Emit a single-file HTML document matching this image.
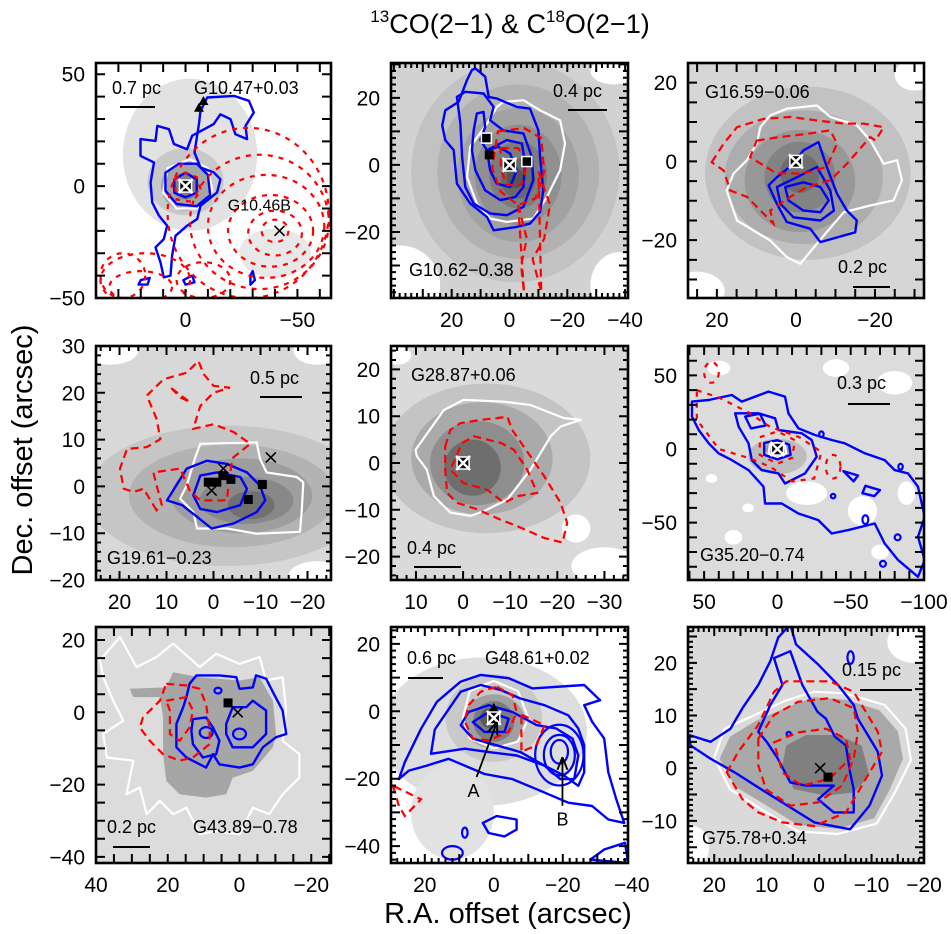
<!DOCTYPE html>
<html><head><meta charset="utf-8">
<style>
html,body{margin:0;padding:0;background:#fff;}
svg{display:block;font-family:"Liberation Sans",Arial,sans-serif;}
</style></head>
<body>
<svg id="fig" width="951" height="934" viewBox="0 0 951 934" xmlns="http://www.w3.org/2000/svg">
<text x="510" y="33" text-anchor="middle" font-size="27"><tspan font-size="17" dy="-11">13</tspan><tspan dy="11">CO(2−1) &amp; C</tspan><tspan font-size="17" dy="-11">18</tspan><tspan dy="11">O(2−1)</tspan></text>
<text transform="translate(32,450) rotate(-90)" text-anchor="middle" font-size="29">Dec. offset (arcsec)</text>
<text x="508" y="923" text-anchor="middle" font-size="29">R.A. offset (arcsec)</text>
</svg>
<script>
// ---------- panel frames (pixel boxes) ----------
const colX=[[96,331],[391,628],[688,924]];
const rowY=[[63,298],[346,580],[627,863]];

// ---------- axis ranges (data, arcsec) ----------
const p1Range=[40,-65,55,-50], p2Range=[41,-41,30.4,-39.7], p3Range=[27.3,-32.4,25,-34.7];
const p4Range=[25,-25,30,-20], p5Range=[15.3,-35,25,-25], p6Range=[61,-100,70,-89];
const p7Range=[40,-25.5,23.6,-41.7], p8Range=[29.8,-38.9,25,-45], p9Range=[25,-20,26.8,-18];

// ---------- tick labels ----------
const p1XTicks=[0,-50], p1YTicks=[50,0,-50];
const p2XTicks=[20,0,-20,-40], p2YTicks=[20,0,-20];
const p3XTicks=[20,0,-20], p3YTicks=[20,0,-20];
const p4XTicks=[20,10,0,-10,-20], p4YTicks=[30,20,10,0,-10,-20];
const p5XTicks=[10,0,-10,-20,-30], p5YTicks=[20,10,0,-10,-20];
const p6XTicks=[50,0,-50,-100], p6YTicks=[50,0,-50];
const p7XTicks=[40,20,0,-20], p7YTicks=[20,0,-20,-40];
const p8XTicks=[20,0,-20,-40], p8YTicks=[20,0,-20,-40];
const p9XTicks=[20,10,0,-10,-20], p9YTicks=[20,10,0,-10];

// ---------- grey levels: ellipses [cx,cy,rx,ry] with shades ----------
const p1GreyEll=[[-2,14,30,34],[-40,-30,16,11],[0,2,17,15],[0,0,11,11],[0,0,6,6],[0,0,3,3]];
const p1GreyShade=['#e2e2e2','#e8e8e8','#c8c8c8','#a6a6a6','#808080','#5e5e5e'];
const p2GreyEll=[[-2,-2,36,33],[-3,-2,28,26],[-3,-3,21,20],[-3,-3,15,15],[-3,-3,10,10],[-3,-4,6,6],[-2,-4,3,3]];
const p2GreyShade=['#c2c2c2','#b2b2b2','#a2a2a2','#909090','#7c7c7c','#686868','#555555'];
const p3GreyEll=[[-3,-3,26,22],[-2,-4,20,17],[-1,-5,14,13],[-1,-4,9,9],[-1,-3,5,5]];
const p3GreyShade=['#c2c2c2','#adadad','#989898','#838383','#6e6e6e'];
const p4GreyEll=[[-3,-2,30,15],[-4,-2,22,11],[-6,-2,15,8],[-7,-3,10,5],[-8,-4,5,3]];
const p4GreyShade=['#c6c6c6','#b3b3b3','#9e9e9e','#888888','#707070'];
const p5GreyEll=[[-5,1,22,16],[-4,1,15,12],[-3,0,10,9],[-2,-1,6,6]];
const p5GreyShade=['#c4c4c4','#aaaaaa','#8e8e8e','#6e6e6e'];
const p6GreyEll=[[0,-5,20,12],[0,0,8,6],[0,0,4,4]];
const p6GreyShade=['#bdbdbd','#999999','#777777'];
const p7GreyEll=[];
const p7GreyShade=[];
const p8GreyEll=[[3,-6,30,22],[12,-30,12,14],[0,-2,14,13],[0,-3,9,8],[0,-3,6,6],[1,-2,3,3]];
const p8GreyShade=['#dedede','#e2e2e2','#c9c9c9','#a0a0a0','#7c7c7c','#5a5a5a'];
const p9GreyEll=[];
const p9GreyShade=[];

// white patches (background holes) [cx,cy,rx,ry]
const p2Holes=[[38,-36,14,12],[-38,-36,10,10],[-36,28,8,4]];
const p3Holes=[[-30,22,5,4],[25,-33,7,5]];
const p4Holes=[[22,29,6,3],[-22,29,5,3],[-22,-19,6,3]];
const p5Holes=[[14,23,3,2],[-30,-22,7,4],[-24,-14,3,3]];
const p6Holes=[[40,55,8,5],[-20,-30,14,8],[-58,-42,10,10],[-80,45,12,8],[30,-60,6,5],[-40,55,9,6],[45,-20,4,3],[-70,-70,6,5],[20,-40,4,3],[-88,-30,6,8]];
const p9Holes=[[-18,24,5,4],[24,-15,3,4]];

// grey polygons [x,y]
const p7DarkPoly=[[30.6,6.5],[20.4,6.9],[18.5,11.1],[11.1,9.7],[0,8.8],[-5.6,9.7],[-9.3,3.2],[-10.2,-6],[-9.3,-9.7],[-3.7,-16.2],[1.9,-18.1],[3.7,-22.7],[9.3,-23.6],[16.7,-22.7],[20.4,-19],[21.3,-11.6],[21.3,-1.4],[22.2,4.2],[29.6,4.2]];
const p9MidPoly=[[19,1.8],[17,6],[12,9],[6.3,11.5],[1,13.5],[-5.1,13],[-11.5,11],[-15,7],[-16,1.8],[-13.5,-4],[-10.5,-9.5],[-3.6,-11.5],[4,-10.8],[11,-6.5],[16,-3.5]];
const p9DarkPoly=[[6.3,4.3],[2.5,6.3],[-3.6,6.3],[-8.1,4.3],[-9.6,-1.4],[-6.6,-4.6],[-1.3,-5.2],[4.8,-4],[7,0.5]];

// ---------- white contours ----------
const p1White=[[[8,8],[-2,12],[-10,8],[-12,-2],[-6,-10],[4,-10],[10,-3]]];
const p2White=[[[2.1,18.8],[-4.8,19.3],[-10.6,16.3],[-17.5,13.3],[-19.2,6.4],[-17.5,-1.6],[-12.9,-9.6],[-8.3,-16],[0.9,-17],[6.7,-16],[11.3,-11.5],[14.7,-3.6],[13.6,5.4],[7.8,12.3],[4.4,17.3]]];
const p3White=[[[6.5,11.7],[2.3,13.4],[-5.3,14.2],[-8.7,11.3],[-15.4,9.2],[-18.8,5.3],[-22.2,-0.6],[-25.6,0.3],[-26.8,-4.8],[-24.7,-9.9],[-18.8,-11.2],[-12.1,-12.9],[-5.3,-20.9],[-1.1,-26],[2.3,-24.3],[6.5,-20.1],[14.9,-15],[17.5,-7.4],[15.8,-3.1],[12.4,0.3],[9.9,4.5],[9,8.7]]];
const p4White=[[[3.9,6.2],[2.8,9.1],[-9.2,9.4],[-9.9,5.9],[-11.3,3],[-17.7,2],[-19.1,0.9],[-18.8,-4.8],[-18.4,-9.7],[-9.2,-10.1],[-2.8,-9],[3.5,-9],[4.3,-5.5],[7.1,-2.6],[5.7,0.2]]];
const p5White=[[[10.1,2.8],[4.1,11.3],[-0.1,13.5],[-8.7,13.1],[-14.3,12.4],[-21.4,9.6],[-25,9.2],[-22.8,8.5],[-20.7,7.8],[-18.6,5.7],[-14.3,-1.4],[-9.4,-7.8],[-4.4,-10.3],[-1.6,-11.3],[2.7,-10.6],[6.2,-7.1],[7.7,-1.4],[9.8,1.4]]];
const p6White=[[[5,4],[-5,4],[-6,-3],[0,-6],[6,-3]]];
const p7White=[[[38.9,14.4],[33.3,20.8],[28.7,12.5],[23.1,15.3],[18.5,19],[11.1,12.5],[6.5,16.2],[0,13.4],[-5.6,15.3],[-7.4,8.8],[-12,9.7],[-13,0.5],[-12,-7.9],[-16.7,-11.6],[-16.7,-18.1],[-12,-22.7],[-8.3,-28.2],[-3.7,-26.4],[0,-33.8],[6.5,-32.9],[11.1,-33.8],[14.8,-26.4],[18.5,-28.2],[22.2,-24.5],[25.9,-28.2],[27.8,-20.8],[31.5,-22.7],[29.6,-13.4],[37,-12.5],[38,-6],[32.4,-2.3],[35.2,3.2],[38,9.7]]];
const p8White=[[[7,6],[0,9],[-7,6],[-10,-2],[-7,-9],[0,-11],[7,-8],[9,-2]]];
const p9White=[[[20,2],[18,7.5],[12.5,10],[6.5,12.8],[1,14.5],[-5,14.2],[-12.5,12],[-16.5,7.5],[-17.5,1.5],[-14.5,-4.5],[-11,-10.5],[-3.6,-12.5],[4,-12],[11.5,-7.5],[17,-4]]];

// ---------- blue contours ----------
const p1Blue=[
 [[-6.7,33.6],[-9.7,39.6],[-21.6,40.3],[-28.3,38.1],[-30.5,32.9],[-26.8,26.9],[-27.5,21],[-22.3,23.2],[-20.1,29.9],[-15.6,32.1],[-12.6,27.7],[-3,22.5],[-0.7,16.5],[5.2,18.8],[7.4,25.4],[12.6,26.9],[13.4,20.2],[20.1,21],[20.1,13.5],[14.1,10.6],[15.6,1.6],[14.9,-7.3],[11.9,-13.2],[8.2,-17.7],[9.7,-23.7],[13.4,-27.4],[11.2,-34.1],[9.7,-40.8],[6.7,-40],[6,-31.1],[4.5,-22.2],[-0.7,-17.7],[-5.2,-14.7],[-6.7,-8.8],[-14.1,-2.8],[-15.6,3.1],[-12.6,6.1],[-6.7,8.3],[-4,15],[-6,28]],
 [[9,6],[3,10],[-5,10],[-10,5],[-11,-4],[-5,-9],[4,-8],[9,-2]],
 [[5,3],[0,6],[-5,3],[-5,-3],[0,-5],[5,-3]],
 [[20,-42],[16,-41],[17,-44],[21,-44]],[[1,-42],[-3,-40],[-4,-43],[0,-44]],[[-30,-38],[-31,-42],[-29,-44],[-29,-40]]
];
const p2Blue=[
 [[11.8,28.8],[8.4,26.3],[7.2,20.3],[4.4,19.8],[-2.5,17.3],[-7.1,16.8],[-10,10.3],[-10.6,2.4],[-11.7,-7.6],[-10.6,-14],[-7.1,-17.5],[-2.5,-18.5],[5.5,-19.5],[7.8,-15.5],[13.6,-11.5],[18.2,-5.6],[19.3,4.4],[22.2,7.4],[23.3,11.8],[22.2,16.3],[17.6,18.8],[14.7,25.3],[13,28.3]],
 [[18.2,20.3],[15.3,21.8],[9,21.3],[5.5,17.3],[6.7,13.3],[2.1,10.3],[-4.8,9.4],[-7.7,2.4],[-8.2,-4.6],[-4.8,-12.5],[0.9,-15],[6.7,-14.5],[12.4,-11.5],[15.3,-6.6],[16.4,2.4],[17,12.3]],
 [[11.3,15.3],[9,15.8],[8.4,11.3],[10.1,7.4],[7.8,4.4],[0.9,7.4],[-4.3,6.4],[-5.4,0.4],[-4.8,-6.6],[-2,-9.6],[3.2,-10.5],[8.4,-7.6],[11.8,-1.6],[13,4.4],[12.4,10.3]],
 [[7.8,4.4],[3.8,5.4],[-0.2,3.4],[-2.5,-1.6],[-0.2,-6.6],[4.4,-5.6],[6.7,-1.6]]
];
const p3Blue=[
 [[-5.7,4.9],[-7.8,-1.4],[-10.4,-8.2],[-12.9,-12.5],[-15.4,-15],[-15,-18],[-6.2,-20.5],[-3.6,-17.1],[2.3,-15.4],[4.8,-10.8],[6.9,-6.1],[4.8,-4],[0.6,-0.6],[-1.9,2.8]],
 [[4.8,-6.5],[-0.3,-4],[-5.3,-1.4],[-8.7,-7.4],[-9.6,-12.5],[-6.2,-15],[0.6,-14.2],[3.9,-10.8]],
 [[2.7,-6.5],[-1.9,-5.3],[-6.2,-6.5],[-8.3,-9.9],[-6.2,-12.9],[-1.9,-12.5],[1.9,-9.9]]
];
const p4Blue=[
 [[9.9,-3],[5.7,3.8],[1.4,5.5],[-2.8,4.8],[-7.1,3],[-9.9,0.2],[-11,-3],[-9.2,-5.5],[-4.3,-7.9],[0.4,-9],[3.5,-6.5],[6.7,-4]],
 [[4.3,-1.9],[2.8,2.3],[-0.7,3],[-5.7,2],[-7.1,-0.5],[-5.7,-4],[-0.7,-5.5],[2.8,-4.8]]
];
const p5Blue=[];
const p6Blue=[
 [[58.3,32.2],[46.9,33.3],[31.1,36.7],[24.3,32.2],[6.1,39],[-5.2,35.6],[-7.5,24.3],[-14.3,14.1],[-25.6,9.5],[-37,6.1],[-46,3.9],[-59.6,-2.9],[-73.2,-7.5],[-80,-14.3],[-89.1,-16.6],[-95.9,-25.6],[-100.5,-46],[-95.9,-59.6],[-100.5,-75.5],[-95.9,-86.8],[-82.3,-75.5],[-73.2,-64.2],[-66.4,-50.6],[-48.3,-55.1],[-37,-57.4],[-27.9,-48.3],[-14.3,-43.8],[-2.9,-37],[8.4,-37],[9.5,-25.6],[19.7,-14.3],[31.1,-7.5],[40.1,-2.9],[46.9,3.9],[53.7,12.9],[58.3,22]],
 [[28.8,24.3],[13,24.3],[1.6,20.9],[-0.7,12.9],[-16.6,10.7],[-23.4,6.1],[-26.8,-5.2],[-18.8,-16.6],[-5.2,-23.4],[-0.7,-16.6],[10.7,-14.3],[17.5,-7.5],[19.7,3.9],[26.5,15.2]],
 [[22,22],[12,24],[8,16],[18,14]],
 [[9,4],[0,6],[-8,3],[-9,-4],[0,-7],[9,-4]],
 [[-60,-25],[-70,-28],[-66,-32],[-58,-30]],
 [[-45,-15],[-55,-18],[-52,-22]]
];
const p6BlueEll=[[-60,-48,2,3],[-82,-60,2,2],[-72,-78,2,2],[-84,-12,1.5,2],[-30,10,1.5,2],[-38,-32,1.5,1.5]];
const p7Blue=[
 [[13.9,7.9],[12,10.2],[5.6,10.2],[0.9,9.7],[0,6.5],[-3.7,6.9],[-4.6,10.2],[-7.4,9.3],[-9.3,5.6],[-12,0.5],[-13,-6],[-10.2,-6.9],[-6.5,-9.7],[-3.7,-14.4],[0,-15.3],[5.6,-14.4],[7.4,-11.6],[9.3,-15.3],[14.8,-12.5],[17.6,-9.7],[17.6,-3.2],[15.7,1.4],[14.8,4.2]],
 [[13,-1.9],[9.3,-1.4],[7.4,-4.2],[5.6,-7.9],[6.5,-11.6],[10.2,-12.5],[13,-8.8],[13.4,-5.1]],
 [[1.9,1.4],[-1.9,1.4],[-3.7,3.2],[-7.4,0.5],[-7.4,-6],[-3.7,-9.7],[1.9,-9.7],[3.7,-6],[3.7,-3.2]]
];
const p7BlueEll=[[9.3,-5.6,1.8,1.5],[0,-6,1.8,1.5],[6,6,1,0.8]];
const p8Blue=[
 [[27.5,-20.1],[24.6,-17.6],[19.4,-16.1],[13.1,-14.1],[2.7,-18.6],[-5.4,-20.1],[-12.4,-23.1],[-21.6,-27.1],[-28.5,-28.1],[-33.2,-32.1],[-37.8,-33.1],[-35.5,-26.1],[-33.2,-18.1],[-32,-8.1],[-28.5,-3.1],[-26.2,1.8],[-30.8,3.3],[-26.2,7.8],[-11.2,6.8],[-4.3,9.8],[3.8,10.8],[9.6,8.8],[16.5,2.8],[21.1,-5.2],[25.8,-15.1]],
 [[18.2,-12.6],[8.4,-11.1],[1.5,-12.1],[-6.6,-13.1],[-14.7,-16.1],[-20.4,-19.1],[-24.5,-22.1],[-26.2,-18.1],[-26.2,-10.1],[-24.5,-5.1],[-21.6,-1.2],[-14.7,1.8],[-7.7,3.8],[-2,6.3],[3.8,7.8],[9.6,5.8],[13.1,0.6],[17.1,-5.4]],
 [[9.6,-4.1],[7.3,-0.2],[1.5,1.8],[-5.4,-0.2],[-12.4,-4.1],[-18.1,-5.1],[-22.8,-8.1],[-24.5,-13.1],[-23.3,-20.1],[-19.3,-20.1],[-14.7,-16.1],[-7.7,-12.1],[-0.8,-10.1],[6.1,-8.1]],
 [[6.1,-3.2],[1.5,-0.2],[-4.3,-2.2],[-3.1,-6.1],[2.7,-6.1]],
 [[3.2,-33.1],[-0.8,-31.1],[-6.6,-32.1],[-6.6,-35.1],[-3.1,-37.1],[1.5,-36.1]],
 [[-28,-44],[-32,-41],[-38,-39],[-39,-45]]
];
const p8BlueEll=[[-19,-13,7,9],[-19,-13,4.5,6],[-19,-12,2.5,3.5],[8.4,-36,0.8,1.5],[12,-42,3,2]];
const p9Blue=[
 [[24.8,6.3],[20.7,5],[16.9,7.5],[14.6,11.4],[11.6,15.8],[9.3,20.3],[7.8,24.8],[5.5,27.3],[4.4,23.5],[0.2,19.7],[-3.6,15.8],[-6.6,12],[-7.4,9.4],[-8.9,6.9],[-11.2,3.1],[-12,-1.4],[-9.6,-7.1],[-5.9,-11.6],[0.9,-10.3],[10.1,-4.6],[16.1,-0.8],[20.7,1.8],[24.5,4.3]],
 [[11.6,6.9],[9.3,12],[7,15.8],[8.6,20.9],[5.5,22.2],[3.2,15.8],[0.3,10.7],[-1.3,9.4],[-3,6],[-5.1,4.3],[-5.9,-0.8],[-6.6,-4],[-6.6,-8.4],[-2.8,-8.4],[0.2,-5.9],[-2.8,-3.3],[2.5,-3.3],[5.5,-2.7],[8,2],[10,5]]
];
const p9BlueEll=[[-6,21,0.6,1.2],[5.8,6.5,0.4,0.4]];

// ---------- red dashed contours ----------
const p1Red=[[[5,3],[0,6],[-5,4],[-7,-2],[-3,-7],[4,-6]]];
const p1RedEll=[[-40,-20,6,5],[-40,-21,12,10],[-38,-20,19,16],[-36,-18,26,23],[-33,-16,31,30],[-28,-12,36,38],[18,-42,20,12],[20,-45,14,7],[-8,-42,12,8],[28,-40,10,10]];
const p2Red=[
 [[4,10],[-5,11],[-11,8],[-12,-2],[-9,-10],[-3,-12],[3,-8],[6,-1]],
 [[3,5],[-3,5],[-6,0],[-4,-6],[1,-6],[3,-1]],
 [[-3,-12],[-6,-22],[-4,-30],[-5,-38]],
 [[-10,-2],[-14,-12],[-12,-22],[-8,-28],[-11,-38]]
];
const p2RedEll=[];
const p3Red=[
 [[21.3,-0.2],[18.3,4.5],[14.9,8.7],[8.2,10.8],[1.4,11.3],[-5.3,10.4],[-12.1,9.6],[-17.1,9.6],[-22.2,8.7],[-20.1,5.3],[-18.8,6.2],[-12.9,-0.6],[-8.7,-4.8],[-2.8,-6.5],[1.4,-9],[6.5,-12.5],[5.7,-15.8],[12.4,-9],[16.6,-7.4],[18.3,-2.3]],
 [[9.9,5.3],[4,6.2],[-2.8,7],[-8.7,7.9],[-10.4,4.5],[-7.8,-1.4],[-1.9,-3.1],[5,-3],[11.6,1.1]]
];
const p3RedEll=[];
const p4Red=[
 [[12.1,-5.1],[14.9,-0.5],[17,-1.2],[19.1,-0.5],[19.9,3.8],[18.4,8],[14.2,8.4],[11.3,10.1],[12.1,14.4],[14.2,19.4],[10.6,22.9],[5.7,24.3],[3.2,26.8],[2.1,24],[0,21.5],[-3.5,21.1],[0,20],[2.8,17.2],[4.3,12.3],[0,13.3],[-4.3,11.6],[-7.8,9.1],[-4,6],[-2.8,-3],[2.8,-3],[5,-1],[7.1,3.8],[12.8,3],[11,-4]],
 [[9,21],[7,19],[5,18]]
];
const p4RedEll=[];
const p5Red=[
 [[3.8,3.5],[2.7,7.1],[0.6,8.5],[-3.7,9.2],[-7.2,9.6],[-9.4,9.9],[-10.4,7.1],[-14.3,1.4],[-17.2,-2.8],[-20.7,-8.5],[-22.1,-12.8],[-21.1,-17],[-17.2,-16],[-11.5,-13.5],[-7.9,-12.1],[-3,-9.9],[1.3,-8.5],[3.4,-6.4],[3.8,-1.4]],
 [[0.2,4.3],[-2.3,5.7],[-8,4.3],[-10.8,2.8],[-13.6,-1.4],[-15.7,-6.4],[-11.5,-7.1],[-8.7,-8.5],[-5.1,-5.7],[-0.1,-4.3],[2.7,-1.4]]
];
const p5RedEll=[];
const p6Red=[
 [[55,40],[40,35],[20,25],[5,15],[-15,8],[-30,-2],[-25,-20],[-10,-22],[5,-12],[20,-6],[40,0],[55,20]],
 [[12,8],[0,12],[-12,6],[-10,-6],[0,-10],[12,-4]]
];
const p6RedEll=[[-38,-12,5,8],[45,52,5,7]];
const p7Red=[
 [[20.4,7.9],[14.8,7.4],[11.1,6.5],[9.3,2.3],[8.3,-5.1],[8.3,-8.8],[13,-12.5],[16.7,-13.4],[21.3,-11.6],[25,-7.9],[27.8,-4.2],[26.9,-1.4],[22.2,3.2]],
 [[20.4,3.2],[14.8,4.2],[13,0.5],[13.9,-4.2],[16.7,-7.9],[19.4,-6],[19.4,0.5]]
];
const p7RedEll=[];
const p8Red=[
 [[-0.8,7.3],[-5.4,4.8],[-6.6,-0.2],[-4.3,-6.1],[1.5,-8.6],[6.1,-8.1],[8.4,-3.1],[7.3,1.8],[3.8,5.8]],
 [[-8,-1],[-14.7,-4.1],[-12.4,-10.1],[-8,-12]],
 [[29.2,-22.1],[27.5,-28.1],[25.8,-31.1],[21.1,-26.1]]
];
const p8RedEll=[];
const p9Red=[
 [[17.6,-0.8],[15.4,3.1],[11.6,8.2],[8.6,14.5],[6.3,16.5],[-2,16.5],[-6.6,14.5],[-8.9,10.7],[-11.2,6.9],[-12,3.1],[-9.6,-0.8],[-7.4,-4.6],[-5.1,-8.4],[0.9,-11],[7,-10.3],[11.6,-8.4],[14.6,-5.9]],
 [[11.6,5.6],[8.6,10.1],[4,12.6],[-2,13.3],[-6.6,11.4],[-7.4,6.9],[-6.6,1.8],[-4.4,-3.3],[0.2,-6.5],[5.5,-7.1],[10.1,-4],[11.6,0.5]],
 [[8.6,4.9],[4,6.8],[-1.3,7.5],[-5.1,5.6],[-5.9,1.8],[-2,-2],[3.3,-3.3],[7,-0.8]]
];
const p9RedEll=[];

// ---------- markers [x,y] per type ----------
const p1MarkX=[[-42,-20]], p1MarkXW=[[0,0]], p1MarkSq=[], p1MarkTri=[[-8,38],[-6,35],[1,-1]];
const p2MarkX=[], p2MarkXW=[[0,0]], p2MarkSq=[[7,3]], p2MarkTri=[[8,8]], p2MarkSqW=[[8,8],[-6,1]];
const p3MarkX=[], p3MarkXW=[[0,0]], p3MarkSq=[], p3MarkTri=[];
const p4MarkX=[[-2.1,3.8],[0.4,-0.9],[-12.2,6.2]], p4MarkXW=[], p4MarkSq=[[1.1,0.9],[-0.7,0.9],[-2,2.3],[-3.7,1.5],[-10.4,0.4],[-7.4,-2.8]], p4MarkTri=[];
const p5MarkX=[], p5MarkXW=[[0,0]], p5MarkSq=[], p5MarkTri=[];
const p6MarkX=[], p6MarkXW=[[0,0]], p6MarkSq=[], p6MarkTri=[];
const p7MarkX=[[0.5,0]], p7MarkXW=[], p7MarkSq=[[3.2,2.6]], p7MarkTri=[];
const p8MarkX=[], p8MarkXW=[[0,-2]], p8MarkSq=[], p8MarkTri=[[0,1]];
const p9MarkX=[[-0.2,0]], p9MarkXW=[], p9MarkSq=[[-1.7,-1.7]], p9MarkTri=[];

// arrows in panel 8 [x1,y1,x2,y2]
const p8ArrowA=[5,-19.5,-0.8,-3.5], p8ArrowB=[-19.9,-28,-19.9,-14];

// ---------- text labels ----------
const panelNames=['G10.47+0.03','G10.62−0.38','G16.59−0.06','G19.61−0.23','G28.87+0.06','G35.20−0.74','G43.89−0.78','G48.61+0.02','G75.78+0.34'];
const nameXY=[[98,31],[18,213],[17,35],[11,218],[20,35],[12,215],[97,206],[94,37],[14,217]];
const scaleLabels=['0.7 pc','0.4 pc','0.2 pc','0.5 pc','0.4 pc','0.3 pc','0.2 pc','0.6 pc','0.15 pc'];
const scaleXY=[[16,31],[162,34],[150,210],[154,38],[16,208],[149,43],[11,206],[16,37],[154,49]];
const scaleBar=[[24,59,44],[177,216,47],[165,202,224],[164,206,51],[23,70,221],[160,202,58],[17,54,220],[17,52,51],[172,224,63]];

const svg=document.getElementById('fig');
const NS='http://www.w3.org/2000/svg';
function mk(tag,attrs,parent){const e=document.createElementNS(NS,tag);for(const k in attrs)e.setAttribute(k,attrs[k]);(parent||svg).appendChild(e);return e;}

const panels=[
 {r:p1Range,xt:p1XTicks,yt:p1YTicks,ge:p1GreyEll,gs:p1GreyShade,bg:'#ffffff',holes:[],w:p1White,b:p1Blue,be:[],rd:p1Red,re:p1RedEll,mx:p1MarkX,mxw:p1MarkXW,msq:p1MarkSq,mt:p1MarkTri,msw:[],maj:10,min:0,dash:'5 6'},
 {r:p2Range,xt:p2XTicks,yt:p2YTicks,ge:p2GreyEll,gs:p2GreyShade,bg:'#d2d2d2',holes:p2Holes,w:p2White,b:p2Blue,be:[],rd:p2Red,re:p2RedEll,mx:p2MarkX,mxw:p2MarkXW,msq:p2MarkSq,mt:p2MarkTri,msw:p2MarkSqW,maj:10,min:2},
 {r:p3Range,xt:p3XTicks,yt:p3YTicks,ge:p3GreyEll,gs:p3GreyShade,bg:'#d6d6d6',holes:p3Holes,w:p3White,b:p3Blue,be:[],rd:p3Red,re:p3RedEll,mx:p3MarkX,mxw:p3MarkXW,msq:p3MarkSq,mt:p3MarkTri,msw:[],maj:5,min:0},
 {r:p4Range,xt:p4XTicks,yt:p4YTicks,ge:p4GreyEll,gs:p4GreyShade,bg:'#d8d8d8',holes:p4Holes,w:p4White,b:p4Blue,be:[],rd:p4Red,re:p4RedEll,mx:p4MarkX,mxw:p4MarkXW,msq:p4MarkSq,mt:p4MarkTri,msw:[],maj:10,min:2},
 {r:p5Range,xt:p5XTicks,yt:p5YTicks,ge:p5GreyEll,gs:p5GreyShade,bg:'#dadada',holes:p5Holes,w:p5White,b:p5Blue,be:[],rd:p5Red,re:p5RedEll,mx:p5MarkX,mxw:p5MarkXW,msq:p5MarkSq,mt:p5MarkTri,msw:[],maj:10,min:2},
 {r:p6Range,xt:p6XTicks,yt:p6YTicks,ge:p6GreyEll,gs:p6GreyShade,bg:'#dcdcdc',holes:p6Holes,w:p6White,b:p6Blue,be:p6BlueEll,rd:p6Red,re:p6RedEll,mx:p6MarkX,mxw:p6MarkXW,msq:p6MarkSq,mt:p6MarkTri,msw:[],maj:10,min:0,dash:'5 6'},
 {r:p7Range,xt:p7XTicks,yt:p7YTicks,ge:p7GreyEll,gs:p7GreyShade,bg:'#dcdcdc',holes:[],w:p7White,b:p7Blue,be:p7BlueEll,rd:p7Red,re:p7RedEll,mx:p7MarkX,mxw:p7MarkXW,msq:p7MarkSq,mt:p7MarkTri,msw:[],maj:5,min:0,poly:[[p7DarkPoly,'#a6a6a6']]},
 {r:p8Range,xt:p8XTicks,yt:p8YTicks,ge:p8GreyEll,gs:p8GreyShade,bg:'#ffffff',holes:[],w:p8White,b:p8Blue,be:p8BlueEll,rd:p8Red,re:p8RedEll,mx:p8MarkX,mxw:p8MarkXW,msq:p8MarkSq,mt:p8MarkTri,msw:[],maj:10,min:2},
 {r:p9Range,xt:p9XTicks,yt:p9YTicks,ge:p9GreyEll,gs:p9GreyShade,bg:'#dadada',holes:p9Holes,w:p9White,b:p9Blue,be:p9BlueEll,rd:p9Red,re:p9RedEll,mx:p9MarkX,mxw:p9MarkXW,msq:p9MarkSq,mt:p9MarkTri,msw:[],maj:5,min:1,poly:[[p9MidPoly,'#a9a9a9'],[p9DarkPoly,'#808080']]}
];

const defs=mk('defs',{});
const am=mk('marker',{id:'arr',viewBox:'0 0 10 10',refX:'9',refY:'5',markerWidth:'7',markerHeight:'7',orient:'auto'},defs);
mk('path',{d:'M0,1 L10,5 L0,9',fill:'none',stroke:'#000','stroke-width':'1.5'},am);

function fmt(v){return v<0?'−'+Math.abs(v):String(v);}

panels.forEach((P,i)=>{
  const c=i%3, rw=Math.floor(i/3);
  const x0=colX[c][0],x1=colX[c][1],y0=rowY[rw][0],y1=rowY[rw][1];
  const [xL,xR,yT,yB]=P.r;
  const sx=v=>x0+(xL-v)/(xL-xR)*(x1-x0);
  const sy=v=>y0+(yT-v)/(yT-yB)*(y1-y0);
  const kx=(x1-x0)/Math.abs(xL-xR), ky=(y1-y0)/Math.abs(yT-yB);
  const g=mk('g',{});
  
  
  const cp=mk('clipPath',{id:'cp'+i},defs);
  mk('rect',{x:x0,y:y0,width:x1-x0,height:y1-y0},cp);
  const inner=mk('g',{'clip-path':'url(#cp'+i+')'},g);
  mk('rect',{x:x0,y:y0,width:x1-x0,height:y1-y0,fill:P.bg},inner);
  const ell=(e,attrs,name)=>{const el=mk('ellipse',Object.assign({cx:sx(e[0]),cy:sy(e[1]),rx:e[2]*kx,ry:e[3]*ky},attrs),inner);return el;};
  const poly=(pts,attrs,name)=>{const el=mk('polygon',Object.assign({points:pts.map(p=>sx(p[0]).toFixed(1)+','+sy(p[1]).toFixed(1)).join(' ')},attrs),inner);return el;};
  P.holes.forEach(e=>{ell(e,{fill:'#ffffff'},'empty-region');});
  P.ge.forEach((e,j)=>{ell(e,{fill:P.gs[j]},'grey-level');});
  (P.poly||[]).forEach(pp=>{poly(pp[0],{fill:pp[1]},'grey-level');});
  P.w.forEach(pts=>{poly(pts,{fill:'none',stroke:'#ffffff','stroke-width':2.2,'stroke-linejoin':'round'},'white-contour');});
  P.b.forEach(pts=>{poly(pts,{fill:'none',stroke:'#0000ff','stroke-width':2.4,'stroke-linejoin':'round'},'blue-contour');});
  P.be.forEach(e=>{ell(e,{fill:'none',stroke:'#0000ff','stroke-width':2.2},'blue-contour');});
  const dash=P.dash||'8 5';
  P.rd.forEach(pts=>{poly(pts,{fill:'none',stroke:'#ff0000','stroke-width':2.2,'stroke-dasharray':dash},'red-dashed-contour');});
  P.re.forEach(e=>{ell(e,{fill:'none',stroke:'#ff0000','stroke-width':2.2,'stroke-dasharray':dash},'red-dashed-contour');});
  P.mt.forEach(p=>{const X=sx(p[0]),Y=sy(p[1]);const el=mk('polygon',{points:`${X},${Y-5} ${X+5},${Y+4} ${X-5},${Y+4}`,fill:'#000'},inner);});
  P.msw.forEach(p=>{const X=sx(p[0]),Y=sy(p[1]);const el=mk('rect',{x:X-5,y:Y-5,width:10,height:10,fill:'#000',stroke:'#fff','stroke-width':1.5},inner);});
  P.msq.forEach(p=>{const X=sx(p[0]),Y=sy(p[1]);const el=mk('rect',{x:X-4.5,y:Y-4.5,width:9,height:9,fill:'#000'},inner);});
  P.mxw.forEach(p=>{const X=sx(p[0]),Y=sy(p[1]);
    const gg=mk('g',{},inner);
    mk('rect',{x:X-6,y:Y-6,width:12,height:12,fill:'#000',stroke:'#fff','stroke-width':1.5},gg);
    mk('path',{d:`M${X-7},${Y-7}L${X+7},${Y+7}M${X+7},${Y-7}L${X-7},${Y+7}`,stroke:'#fff','stroke-width':2.5},gg);});
  P.mx.forEach(p=>{const X=sx(p[0]),Y=sy(p[1]);const el=mk('path',{d:`M${X-5},${Y-5}L${X+5},${Y+5}M${X+5},${Y-5}L${X-5},${Y+5}`,stroke:'#000','stroke-width':1.6},inner);});
  if(i===7){
    [p8ArrowA,p8ArrowB].forEach((a,k)=>{const el=mk('line',{x1:sx(a[0]),y1:sy(a[1]),x2:sx(a[2]),y2:sy(a[3]),stroke:'#000','stroke-width':1.8,'marker-end':'url(#arr)'},inner);});
    const ta=mk('text',{x:sx(p8ArrowA[0])-3,y:sy(p8ArrowA[1])+20,'font-size':18,'text-anchor':'middle'},inner);ta.textContent='A';
    const tb=mk('text',{x:sx(p8ArrowB[0]),y:sy(p8ArrowB[1])+20,'font-size':18,'text-anchor':'middle'},inner);tb.textContent='B';
  }
  if(i===0){const t=mk('text',{x:sx(-33),y:sy(-11),'font-size':16,'text-anchor':'middle'},inner);t.textContent='G10.46B';}
  const nm=mk('text',{x:x0+nameXY[i][0],y:y0+nameXY[i][1],'font-size':18},g);nm.textContent=panelNames[i];
  
  const sl=mk('text',{x:x0+scaleXY[i][0],y:y0+scaleXY[i][1],'font-size':18},g);sl.textContent=scaleLabels[i];
  
  const sb=mk('line',{x1:x0+scaleBar[i][0],x2:x0+scaleBar[i][1],y1:y0+scaleBar[i][2],y2:y0+scaleBar[i][2],stroke:'#000','stroke-width':2},g);
  
  let d='';
  const lo=Math.min(xL,xR),hi=Math.max(xL,xR);
  const tickSet=(a,b,step)=>{const out=[];if(!step)return out;for(let v=Math.ceil(a/step)*step;v<=b+1e-9;v+=step)out.push(v);return out;};
  tickSet(lo,hi,P.maj).forEach(v=>{const X=sx(v);d+=`M${X},${y0}v9M${X},${y1}v-9`;});
  tickSet(lo,hi,P.min).forEach(v=>{const X=sx(v);d+=`M${X},${y0}v5M${X},${y1}v-5`;});
  const ylo=Math.min(yT,yB),yhi=Math.max(yT,yB);
  tickSet(ylo,yhi,P.maj).forEach(v=>{const Y=sy(v);d+=`M${x0},${Y}h9M${x1},${Y}h-9`;});
  tickSet(ylo,yhi,P.min).forEach(v=>{const Y=sy(v);d+=`M${x0},${Y}h5M${x1},${Y}h-5`;});
  const tk=mk('path',{d:d,stroke:'#000','stroke-width':2,fill:'none'},g);
  
  const fr=mk('rect',{x:x0,y:y0,width:x1-x0,height:y1-y0,fill:'none',stroke:'#000','stroke-width':2.6},g);
  
  P.xt.forEach(v=>{const t=mk('text',{x:sx(v),y:y1+29,'font-size':21,'text-anchor':'middle'},g);t.textContent=fmt(v);});
  P.yt.forEach(v=>{const t=mk('text',{x:x0-11,y:sy(v)+7.5,'font-size':21,'text-anchor':'end'},g);t.textContent=fmt(v);});
});
</script>
</body></html>
